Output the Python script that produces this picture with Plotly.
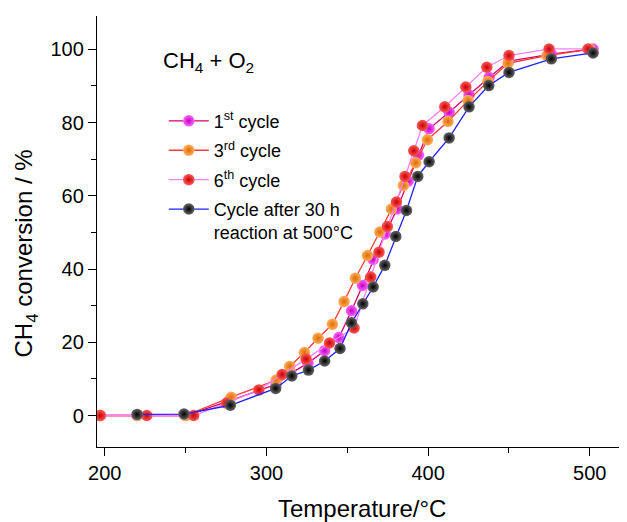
import plotly.graph_objects as go

# ---- data ----
temp_1st = [197, 220, 250, 277, 306, 315, 325.7, 336, 344.8, 352.6, 359.4, 366, 373.4, 380.8,
            387.6, 394, 400.6, 413, 425.3, 437.7, 450, 476.2, 502]
conv_1st = [0, 0, 0, 4, 8.5, 11.5, 14.3, 17.7, 21.3, 28.6, 35.5, 42.6, 49.6, 56.4,
            64, 71.1, 78.3, 82.8, 87.6, 92.3, 96.8, 98.7, 100.1]

temp_3rd = [197, 220, 250, 278.2, 306, 314.4, 323.5, 331.9, 340.8, 348, 355, 362.5, 370.1,
            377.3, 384.7, 392.3, 399.6, 412.3, 424.7, 437, 449.4, 473.5, 500]
conv_3rd = [0, 0, 0, 5, 9.7, 13.4, 17.2, 21.1, 24.9, 31.1, 37.5, 43.7, 50.1,
            56.4, 62.8, 69, 75.3, 80.3, 86, 91.2, 96.2, 98.3, 100]

temp_6th = [197.3, 226, 255, 275.3, 295.3, 309.7, 324.5, 339, 354.2, 364.5, 369.6, 374.8,
            380.4, 385.7, 391.1, 396.5, 410.3, 423.3, 436.3, 450, 474.8, 498.9]
conv_6th = [0, 0, 0, 3.4, 7, 11.2, 15.4, 19.8, 23.9, 37.8, 44.6, 51.6,
            58.3, 65.3, 72.3, 79.2, 84.3, 89.7, 95.1, 98.3, 100.1, 100.1]

temp_30h = [220, 249, 277.7, 305.7, 315.7, 326, 336, 345.5, 352.6, 359.6, 366, 373.2, 380,
            386.6, 393.6, 400.6, 413, 425.3, 437.5, 450, 476.2, 502]
conv_30h = [0.3, 0.4, 2.8, 7.4, 10.8, 12.4, 14.9, 18.3, 25.3, 30.5, 35.1, 41, 48.9,
            56, 65.3, 69.3, 75.8, 84.3, 90.1, 93.7, 97.4, 99]

series_names = ["1<sup>st</sup> cycle", "3<sup>rd</sup> cycle", "6<sup>th</sup> cycle",
                "Cycle after 30 h<br>reaction at 500°C"]

x_ticks = [200, 300, 400, 500]
y_ticks = [0, 20, 40, 60, 80, 100]

FONT = "Arial, Liberation Sans, sans-serif"

styles = [
    dict(line="#d4006a", mc="#ff66ff", edge="#c000c0"),
    dict(line="#ff3b3b", mc="#ffb060", edge="#e06a00"),
    dict(line="#ff80ff", mc="#ff5a5a", edge="#c80000"),
    dict(line="#1f1fff", mc="#666666", edge="#000000"),
]

data = [(temp_1st, conv_1st), (temp_3rd, conv_3rd), (temp_6th, conv_6th), (temp_30h, conv_30h)]

fig = go.Figure()
for (xs, ys), name, st in zip(data, series_names, styles):
    fig.add_trace(go.Scatter(
        x=xs, y=ys, name=name, mode="lines+markers",
        line=dict(color=st["line"], width=1.3),
        marker=dict(size=11.5, color=st["mc"], symbol="circle",
                    gradient=dict(type="radial", color=st["edge"]),
                    line=dict(width=0)),
        legendgroup=name,
    ))

axis_common = dict(
    showline=True, linecolor="black", linewidth=1.3, mirror=False,
    showgrid=False, zeroline=False,
    ticks="outside", ticklen=8, tickwidth=1.3, tickcolor="black",
    tickfont=dict(family=FONT, size=20, color="black"),
)

fig.update_xaxes(range=[195.2, 523], tickvals=x_ticks, ticktext=[str(v) for v in x_ticks],
                 minor=dict(ticks="outside", ticklen=5, tickwidth=1.3, tickcolor="black",
                            tickvals=[250, 350, 450]),
                 **axis_common)
fig.update_yaxes(range=[-8.6, 109.1], tickvals=y_ticks, ticktext=[str(v) for v in y_ticks],
                 minor=dict(ticks="outside", ticklen=5, tickwidth=1.3, tickcolor="black",
                            tickvals=[10, 30, 50, 70, 90]),
                 **axis_common)

fig.add_annotation(text="CH<sub>4</sub> conversion / %", textangle=-90,
                   xref="paper", yref="paper", x=-0.134, y=0.449,
                   xanchor="center", yanchor="middle", showarrow=False,
                   font=dict(family=FONT, size=24, color="black"))
fig.add_annotation(text="Temperature/°C",
                   xref="paper", yref="paper", x=0.5, y=-0.142,
                   xanchor="center", yanchor="middle", showarrow=False,
                   font=dict(family=FONT, size=24, color="black"))
fig.add_annotation(text="CH<sub>4</sub> + O<sub>2</sub>",
                   xref="paper", yref="paper", x=0.12, y=0.893,
                   xanchor="left", yanchor="middle", showarrow=False,
                   font=dict(family=FONT, size=22, color="black"))

# the page body adds an 8 px offset, so the figure is 8 px smaller and the
# left/top margins are 8 px smaller to land the plot area where the reference has it
fig.update_layout(
    width=619, height=514,
    margin=dict(l=89, r=0, t=8, b=75),
    paper_bgcolor="white", plot_bgcolor="white",
    showlegend=True,
    legend=dict(x=0.126, y=0.799, xanchor="left", yanchor="top",
                bgcolor="rgba(0,0,0,0)", borderwidth=0,
                font=dict(family=FONT, size=18, color="black"),
                tracegroupgap=3, itemwidth=40, valign="top"),
)

fig.write_html("out.html")
